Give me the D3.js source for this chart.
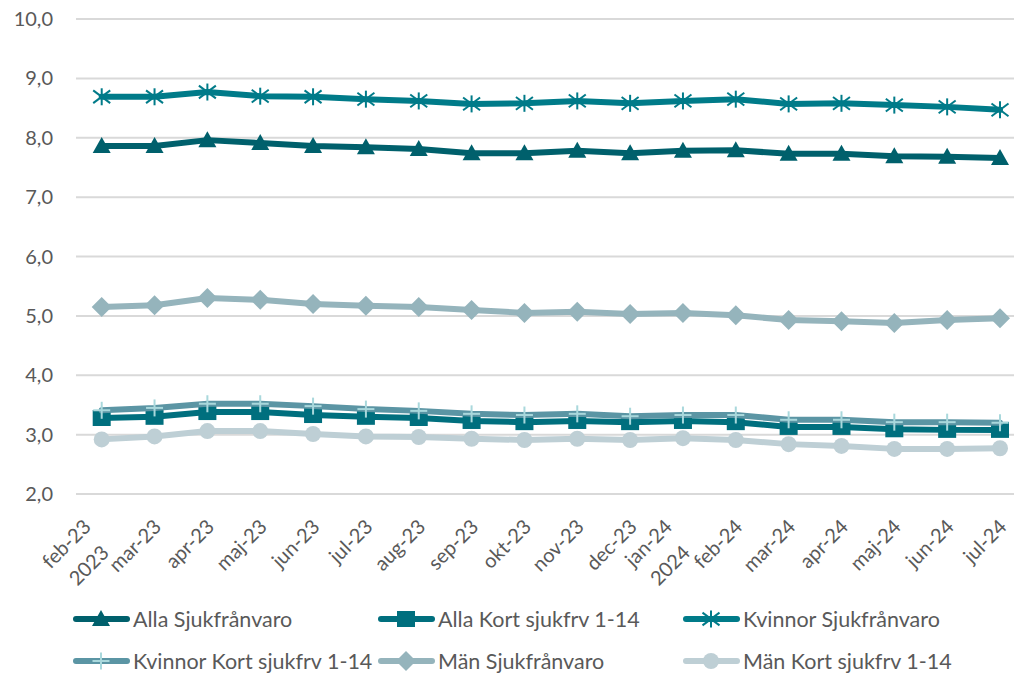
<!DOCTYPE html>
<html><head><meta charset="utf-8">
<script src="https://cdn.jsdelivr.net/npm/d3@7"></script>
<style>
html,body{margin:0;padding:0;background:#fff;overflow:hidden}
svg{display:block}
text{font-family:Lato,"Open Sans",sans-serif;fill:#595959}
</style></head><body>
<svg id="c" width="1014" height="675"></svg>
<script>
const months = ["feb-23","mar-23","apr-23","maj-23","jun-23","jul-23","aug-23","sep-23","okt-23","nov-23","dec-23","jan-24","feb-24","mar-24","apr-24","maj-24","jun-24","jul-24"];
const yearLabels = [{year:"2023", at:"feb-23"},{year:"2024", at:"jan-24"}];
const yTicks = [2,3,4,5,6,7,8,9,10];
const allaSjuk   = [7.86,7.86,7.96,7.91,7.86,7.84,7.81,7.74,7.74,7.78,7.74,7.78,7.79,7.73,7.73,7.69,7.68,7.66];
const allaKort   = [3.28,3.30,3.38,3.38,3.33,3.30,3.28,3.23,3.21,3.23,3.21,3.23,3.21,3.13,3.13,3.09,3.08,3.08];
const kvSjuk     = [8.69,8.69,8.77,8.70,8.69,8.65,8.62,8.57,8.58,8.62,8.58,8.62,8.65,8.57,8.58,8.55,8.52,8.47];
const kvKort     = [3.41,3.45,3.52,3.52,3.48,3.43,3.40,3.35,3.33,3.35,3.31,3.33,3.33,3.25,3.25,3.21,3.21,3.20];
const manSjuk    = [5.15,5.18,5.30,5.27,5.20,5.17,5.15,5.10,5.05,5.07,5.03,5.05,5.01,4.93,4.91,4.88,4.93,4.96];
const manKort    = [2.92,2.97,3.06,3.06,3.01,2.97,2.96,2.93,2.91,2.93,2.91,2.94,2.91,2.84,2.81,2.76,2.76,2.77];
const seriesNames = ["Alla Sjukfrånvaro","Alla Kort sjukfrv 1-14","Kvinnor Sjukfrånvaro","Kvinnor Kort sjukfrv 1-14","Män Sjukfrånvaro","Män Kort sjukfrv 1-14"];

const series = [
  {name:seriesNames[0], values:allaSjuk, color:"#00606C", marker:"triangle", mcolor:"#00606C"},
  {name:seriesNames[1], values:allaKort, color:"#006F7E", marker:"square", mcolor:"#006F7E"},
  {name:seriesNames[2], values:kvSjuk, color:"#007B89", marker:"star", mcolor:"#007B89"},
  {name:seriesNames[3], values:kvKort, color:"#5B95A4", marker:"plus", mcolor:"#A9D8DC"},
  {name:seriesNames[4], values:manSjuk, color:"#95B4BC", marker:"diamond", mcolor:"#95B4BC"},
  {name:seriesNames[5], values:manKort, color:"#BECFD5", marker:"circle", mcolor:"#BECFD5"}
];

const svg = d3.select("#c");
const x = d3.scalePoint().domain(months).range([101.7, 1000]);
const y = d3.scaleLinear().domain([2,10]).range([494,19]);

// gridlines
svg.append("g").selectAll("line").data(yTicks).join("line")
  .attr("x1",76).attr("x2",1014).attr("y1",d=>y(d)).attr("y2",d=>y(d))
  .attr("stroke","#D9D9D9").attr("stroke-width",2);

// y labels
const fmt = d=>d3.format(".1f")(d).replace(".",",");
svg.append("g").selectAll("text").data(yTicks).join("text")
  .attr("x",53).attr("y",d=>y(d)).attr("dy","0.35em").attr("text-anchor","end")
  .attr("font-size",20).text(fmt);

// x labels
const yearAt = new Set(yearLabels.map(d=>d.at));
svg.append("g").selectAll("text").data(months).join("text")
  .attr("transform",d=>`translate(${x(d)+(yearAt.has(d)?-9.5:8)},528) rotate(-45)`)
  .attr("text-anchor","end").attr("font-size",20).text(d=>d);
svg.append("g").selectAll("text").data(yearLabels).join("text")
  .attr("transform",d=>`translate(${x(d.at)+8.5},554) rotate(-45)`)
  .attr("text-anchor","end").attr("font-size",20).text(d=>d.year);

function drawMarker(g, type, color, cx, cy, scale=1){
  const s = scale;
  if(type==="triangle"){
    g.append("path").attr("d",`M${cx},${cy-9*s}L${cx+9*s},${cy+7*s}L${cx-9*s},${cy+7*s}Z`).attr("fill",color);
  } else if(type==="square"){
    g.append("rect").attr("x",cx-9*s).attr("y",cy-8*s).attr("width",18*s).attr("height",16*s).attr("fill",color);
  } else if(type==="star"){
    const r=8.5*s;
    [[0,-r,0,r],[-r,-r*0.75,r,r*0.75],[-r,r*0.75,r,-r*0.75]].forEach(p=>{
      g.append("line").attr("x1",cx+p[0]).attr("y1",cy+p[1]).attr("x2",cx+p[2]).attr("y2",cy+p[3]).attr("stroke",color).attr("stroke-width",2);
    });
  } else if(type==="plus"){
    const r=8.5*s;
    g.append("line").attr("x1",cx-r).attr("x2",cx+r).attr("y1",cy).attr("y2",cy).attr("stroke",color).attr("stroke-width",2);
    g.append("line").attr("x1",cx).attr("x2",cx).attr("y1",cy-r).attr("y2",cy+r).attr("stroke",color).attr("stroke-width",2);
  } else if(type==="diamond"){
    g.append("path").attr("d",`M${cx},${cy-10*s}L${cx+10*s},${cy}L${cx},${cy+10*s}L${cx-10*s},${cy}Z`).attr("fill",color);
  } else if(type==="circle"){
    g.append("circle").attr("cx",cx).attr("cy",cy).attr("r",8*s).attr("fill",color);
  }
}

const line = d3.line().x((d,i)=>x(months[i])).y(d=>y(d));
series.forEach(s=>{
  const g = svg.append("g");
  g.append("path").attr("d",line(s.values)).attr("fill","none").attr("stroke",s.color)
    .attr("stroke-width",6).attr("stroke-linejoin","round").attr("stroke-linecap","round");
  s.values.forEach((v,i)=>drawMarker(g,s.marker,s.mcolor,x(months[i]),y(v)));
});

// legend
const legCols = [73,378,683];
const legRows = [619,661];
series.forEach((s,i)=>{
  const lx = legCols[i%3], ly = legRows[Math.floor(i/3)];
  const g = svg.append("g");
  g.append("line").attr("x1",lx+3).attr("x2",lx+54).attr("y1",ly).attr("y2",ly)
    .attr("stroke",s.color).attr("stroke-width",6).attr("stroke-linecap","round");
  drawMarker(g,s.marker,s.mcolor,lx+28,ly);
  g.append("text").attr("x",lx+60).attr("y",ly).attr("dy","0.35em").attr("font-size",21.5).text(s.name);
});
</script></body></html>
